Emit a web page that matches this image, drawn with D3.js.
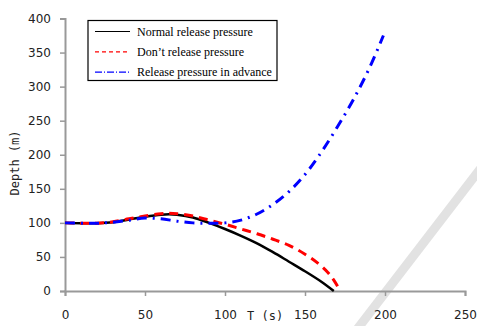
<!DOCTYPE html>
<html>
<head>
<meta charset="utf-8">
<script src="https://cdn.jsdelivr.net/npm/d3@7"></script>
<style>
  body { margin: 0; background: #fff; }
  .tick text { font-family: "DejaVu Sans", sans-serif; font-size: 12px; fill: #222; }
</style>
</head>
<body>
<div id="chart"></div>
<script>
// time (s) and depth (m)
var normalT = [0, 10, 20, 30, 40, 50, 60, 65, 70, 80, 90, 100, 110, 120, 130, 140, 150, 160, 168];
var normalD = [100, 99.5, 99.5, 101, 105, 109, 112, 112.5, 112, 108, 100, 91, 81, 70, 57, 43, 29, 14, 0];

var noReleaseT = [0, 10, 20, 30, 40, 50, 60, 65, 70, 80, 90, 100, 110, 120, 130, 140, 150, 158, 164, 168, 172];
var noReleaseD = [100, 99.5, 99.5, 101.5, 106, 110, 113.5, 114, 113.5, 110, 104, 98, 91, 84, 76, 67, 54, 41, 28, 16, 0];

var advanceT = [0, 10, 20, 30, 40, 50, 60, 70, 80, 90, 100, 110, 120, 130, 140, 150, 160, 170, 180, 190, 199];
var advanceD = [100, 99.5, 99.5, 101, 104, 107, 106, 102.5, 100, 99.5, 100, 104, 113, 127, 146, 171, 203, 240, 280, 326, 375];

var seriesNames = ["Normal release pressure", "Don\u2019t release pressure", "Release pressure in advance"];
var xTicks = [0, 50, 100, 150, 200, 250];
var yTicks = [0, 50, 100, 150, 200, 250, 300, 350, 400];

var svgWidth = 477, svgHeight = 326;
var margin = { top: 18.5, right: 12, bottom: 35, left: 65 };
var width = 465 - margin.left;
var height = 291 - margin.top;

var svg = d3.select("#chart").append("svg")
  .attr("width", svgWidth)
  .attr("height", svgHeight);

// light grey diagonal streak from the scan
svg.append("line")
  .attr("x1", 355).attr("y1", 332)
  .attr("x2", 481).attr("y2", 168)
  .attr("stroke", "#e2e2e2")
  .attr("stroke-width", 9);

var g = svg.append("g")
  .attr("transform", `translate(${margin.left}, ${margin.top})`);

var x = d3.scaleLinear().domain([0, 250]).range([0, width]);
var y = d3.scaleLinear().domain([0, 400]).range([height, 0]);

var xAxis = g.append("g")
  .attr("transform", `translate(0, ${height})`)
  .call(d3.axisBottom(x).tickValues(xTicks).tickSize(5).tickPadding(14));
var yAxis = g.append("g")
  .call(d3.axisLeft(y).tickValues(yTicks).tickSize(5).tickPadding(9));

[xAxis, yAxis].forEach(function(a) {
  a.select(".domain").attr("stroke", "#999").attr("stroke-width", 2);
  a.selectAll(".tick line").attr("stroke", "#999").attr("stroke-width", 1.5);
});

function toPts(ts, ds) {
  return ts.map(function(t, i) { return [t, ds[i]]; });
}

var line = d3.line()
  .x(d => x(d[0]))
  .y(d => y(d[1]))
  .curve(d3.curveCatmullRom.alpha(0.5));

var series = [
  { pts: toPts(normalT, normalD), color: "#000", dash: null, w: 2.5 },
  { pts: toPts(noReleaseT, noReleaseD), color: "#ff0000", dash: "9,6", w: 3 },
  { pts: toPts(advanceT, advanceD), color: "#0000ff", dash: "10,6,2,6", w: 3 }
];

series.forEach(function(s) {
  g.append("path")
    .attr("d", line(s.pts))
    .attr("fill", "none")
    .attr("stroke", s.color)
    .attr("stroke-width", s.w)
    .attr("stroke-dasharray", s.dash);
});

// legend
var legend = svg.append("g").attr("transform", "translate(88, 20.5)");
legend.append("rect")
  .attr("width", 189).attr("height", 60)
  .attr("fill", "#fff")
  .attr("stroke", "#000")
  .attr("stroke-width", 1.2);

series.forEach(function(s, i) {
  var yy = 11 + i * 20.3;
  legend.append("line")
    .attr("x1", 7).attr("x2", 42)
    .attr("y1", yy).attr("y2", yy)
    .attr("stroke", s.color)
    .attr("stroke-width", 1.2)
    .attr("stroke-dasharray", s.dash ? (i == 1 ? "4,3" : "7,2,1,2") : null);
  legend.append("text")
    .attr("x", 49).attr("y", yy + 4)
    .attr("font-family", "Liberation Serif, serif")
    .attr("font-size", "12px")
    .attr("fill", "#000")
    .text(seriesNames[i]);
});

// axis labels
svg.append("text")
  .attr("transform", "translate(19, 163) rotate(-90)")
  .attr("text-anchor", "middle")
  .attr("font-family", "DejaVu Sans Mono, monospace")
  .attr("font-size", "12px")
  .attr("fill", "#222")
  .text("Depth (m)");

svg.append("text")
  .attr("x", 247).attr("y", 320)
  .attr("font-family", "DejaVu Sans Mono, monospace")
  .attr("font-size", "12px")
  .attr("fill", "#222")
  .text("T (s)");
</script>
</body>
</html>
